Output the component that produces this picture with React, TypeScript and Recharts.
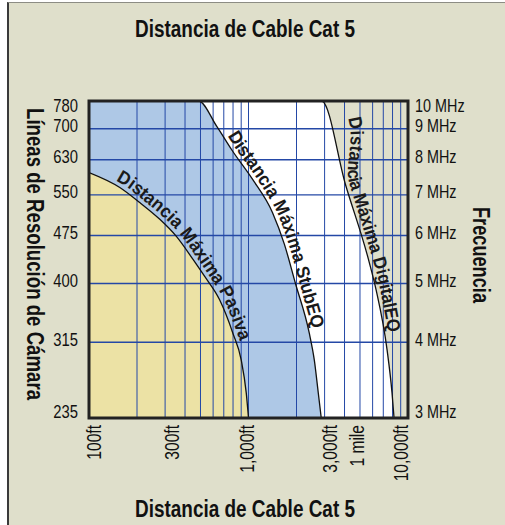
import React from 'react';
import { ComposedChart, Area, Line, XAxis, YAxis, ReferenceLine, ReferenceArea } from 'recharts';

// y: frequency (log), left labels are camera resolution lines for the same rows
const freqTicks = [3, 4, 5, 6, 7, 8, 9, 10];
const resolutionLines = [235, 315, 400, 475, 550, 630, 700, 780];
const gridFreq = [4, 5, 6, 7, 8, 9];

// x: cable distance in feet (log), top axis in metres
const feetTicks = [100, 300, 1000, 3000, 5280, 10000];
const feetLabels = ['100ft', '300ft', '1,000ft', '3,000ft', '1 mile', '10,000ft'];
const meterTicks = [30, 100, 300, 1000, 1600, 3000];
const meterLabels = ['30m', '100m', '300m', '1km', '1,6km', '3km'];
const gridFeet = [200, 300, 400, 500, 600, 700, 800, 900, 1000, 2000, 3000, 4000, 5000, 6000, 7000, 8000, 9000];

// max distance curves (ft, MHz)
const pasivaCurve = [
  { ft: 100, mhz: 7.62 }, { ft: 156, mhz: 7.2 }, { ft: 208, mhz: 6.8 }, { ft: 278, mhz: 6.38 },
  { ft: 353, mhz: 5.98 }, { ft: 449, mhz: 5.48 }, { ft: 530, mhz: 5.14 }, { ft: 659, mhz: 4.7 },
  { ft: 798, mhz: 4.14 }, { ft: 900, mhz: 3.74 }, { ft: 968, mhz: 3.3 }, { ft: 1000, mhz: 3.0 },
];
const stubCurve = [
  { ft: 100, mhz: 10 }, { ft: 487, mhz: 10 }, { ft: 631, mhz: 9.09 }, { ft: 794, mhz: 8.27 },
  { ft: 1059, mhz: 7.43 }, { ft: 1413, mhz: 6.55 }, { ft: 1680, mhz: 5.8 }, { ft: 1966, mhz: 5.01 },
  { ft: 2405, mhz: 4.14 }, { ft: 2585, mhz: 3.74 }, { ft: 2738, mhz: 3.3 }, { ft: 2858, mhz: 3.0 },
];
const digitalCurve = [
  { ft: 100, mhz: 10 }, { ft: 2880, mhz: 10 }, { ft: 4050, mhz: 7.29 }, { ft: 5650, mhz: 5.48 },
  { ft: 6310, mhz: 4.88 }, { ft: 7390, mhz: 3.89 }, { ft: 7940, mhz: 3.3 }, { ft: 8175, mhz: 3.0 },
];

// Arial-metric font squeezed horizontally, close to the condensed face of the original
const FONT = '"Liberation Sans", Arial, sans-serif';
const NARROW = 'scale(0.8,1)';
const BG = '#dfdfcb';
const BLUE = '#aec8e6';
const TAN = '#ece2a5';
const GRID = '#2448a6';

const bottomNudge: Record<string, number> = { '100ft': 5, '300ft': 7, '1,000ft': -2, '3,000ft': 5, '1 mile': -6.5, '10,000ft': -7 };
const topNudge: Record<string, number> = { '30m': 6.5, '100m': 1.5, '300m': 4, '1km': 0, '1,6km': -4, '3km': -6 };

const rowOffset = (v: number) => (v === 10 ? 10.5 : v === 3 ? 0 : 3.5);

const BottomTick = ({ x, y, payload }: any) => {
  const label = feetLabels[feetTicks.indexOf(payload.value)];
  return (
    <g transform={`translate(${x + (bottomNudge[label] ?? 0)},${y - 1}) rotate(-90) ${NARROW}`}>
      <text dy="0.36em" textAnchor="end" fontSize={19.5} fontFamily={FONT} fill="#111">{label}</text>
    </g>
  );
};

const TopTick = ({ x, y, payload }: any) => {
  const label = meterLabels[meterTicks.indexOf(payload.value)];
  return (
    <g transform={`translate(${x + (topNudge[label] ?? 0)},${y - 1}) rotate(-90) ${NARROW}`}>
      <text dy="0.36em" textAnchor="start" fontSize={19} fontFamily={FONT} fill="#111">{label}</text>
    </g>
  );
};

const LeftTick = ({ x, y, payload }: any) => (
  <g transform={`translate(${x - 3},${y + rowOffset(payload.value)}) ${NARROW}`}>
    <text textAnchor="end" fontSize={18.5} fontFamily={FONT} fill="#111">
      {resolutionLines[freqTicks.indexOf(payload.value)]}
    </text>
  </g>
);

const RightTick = ({ x, y, payload }: any) => (
  <g transform={`translate(${x - 1},${y + rowOffset(payload.value)}) ${NARROW}`}>
    <text textAnchor="start" fontSize={18} fontFamily={FONT} fill="#111">{payload.value} MHz</text>
  </g>
);

// smooth path through the series' screen points, used for the text along each curve
const smoothPath = (p: { x: number; y: number }[]) => {
  let d = `M${p[0].x},${p[0].y}`;
  for (let i = 0; i < p.length - 1; i++) {
    const p0 = p[i - 1] || p[i], p1 = p[i], p2 = p[i + 1], p3 = p[i + 2] || p2;
    d += ` C${p1.x + (p2.x - p0.x) / 6},${p1.y + (p2.y - p0.y) / 6} ${p2.x - (p3.x - p1.x) / 6},${p2.y - (p3.y - p1.y) / 6} ${p2.x},${p2.y}`;
  }
  return d;
};

const makeCaption = (text: string, count: number, start: number, length: number, id: string) => {
  const pts: { x: number; y: number }[] = [];
  return (props: any) => {
    pts[props.index] = { x: props.cx, y: props.cy };
    if (props.index !== count - 1) return <g key={`${id}-${props.index}`} />;
    return (
      <g key={`${id}-cap`}>
        <defs>
          <path id={id} d={smoothPath(pts.slice(0, count))} />
        </defs>
        <text dy={-4} fontSize={18.5} fontWeight={700} fontFamily={FONT} fill="#1a1a1a"
          textLength={length} lengthAdjust="spacingAndGlyphs">
          <textPath href={`#${id}`} startOffset={start}>{text}</textPath>
        </text>
      </g>
    );
  };
};

const pasivaCaption = makeCaption('Distancia Máxima Pasiva', pasivaCurve.length, 27, 205, 'cap-pasiva');
const stubCaption = makeCaption('Distancia Máxima StubEQ', stubCurve.length, 158, 212, 'cap-stub');
const digitalCaption = makeCaption('Distancia Máxima DigitalEQ', digitalCurve.length, 263, 220, 'cap-digital');

export default function App() {
  return (
    <div style={{ position: 'absolute', left: 0, top: 0, width: 505, height: 525, background: '#fff', overflow: 'hidden' }}>
      <div
        style={{
          position: 'absolute', left: 7, top: 2, width: 498, height: 523, boxSizing: 'border-box',
          borderLeft: '2px solid #3a3a3a', borderTop: '1px solid #8c8c84', background: BG,
        }}
      />
      <div style={{ position: 'absolute', left: 0, top: 0 }}>
        <ComposedChart width={505} height={525} margin={{ top: 0, right: 0, bottom: 0, left: 0 }}>
          <XAxis xAxisId="ft" dataKey="ft" type="number" scale="log" domain={[100, 10000]} allowDataOverflow
            ticks={feetTicks} interval={0} height={107} axisLine={false} tickLine={false} tick={<BottomTick />} />
          <XAxis xAxisId="m" orientation="top" type="number" scale="log" domain={[30.48, 3048]} allowDataOverflow
            ticks={meterTicks} interval={0} height={101} axisLine={false} tickLine={false} tick={<TopTick />} />
          <YAxis yAxisId="left" type="number" scale="log" domain={[3, 10]} allowDataOverflow
            ticks={freqTicks} interval={0} width={89} axisLine={false} tickLine={false} tick={<LeftTick />} />
          <YAxis yAxisId="right" orientation="right" type="number" scale="log" domain={[3, 10]} allowDataOverflow
            ticks={freqTicks} interval={0} width={97} axisLine={false} tickLine={false} tick={<RightTick />} />

          <Area xAxisId="ft" yAxisId="left" data={digitalCurve} dataKey="mhz" type="monotone" baseValue={3}
            fill="#ffffff" fillOpacity={1} stroke="none" isAnimationActive={false} />
          <Area xAxisId="ft" yAxisId="left" data={stubCurve} dataKey="mhz" type="monotone" baseValue={3}
            fill={BLUE} fillOpacity={1} stroke="none" isAnimationActive={false} />
          <Area xAxisId="ft" yAxisId="left" data={pasivaCurve} dataKey="mhz" type="monotone" baseValue={3}
            fill={TAN} fillOpacity={1} stroke="none" isAnimationActive={false} />

          {gridFeet.map((v) => (
            <ReferenceLine key={`gx${v}`} xAxisId="ft" yAxisId="left" x={v} stroke={GRID} strokeWidth={1} zIndex={150} />
          ))}
          {gridFreq.map((v) => (
            <ReferenceLine key={`gy${v}`} xAxisId="ft" yAxisId="left" y={v} stroke={GRID} strokeWidth={1.3} zIndex={150} />
          ))}

          <Line xAxisId="ft" yAxisId="left" data={digitalCurve} dataKey="mhz" type="monotone" stroke="#111"
            strokeWidth={1.3} dot={digitalCaption} activeDot={false} isAnimationActive={false} />
          <Line xAxisId="ft" yAxisId="left" data={stubCurve} dataKey="mhz" type="monotone" stroke="#111"
            strokeWidth={1.3} dot={stubCaption} activeDot={false} isAnimationActive={false} />
          <Line xAxisId="ft" yAxisId="left" data={pasivaCurve} dataKey="mhz" type="monotone" stroke="#111"
            strokeWidth={1.3} dot={pasivaCaption} activeDot={false} isAnimationActive={false} />

          <ReferenceArea xAxisId="ft" yAxisId="left" x1={100} x2={10000} y1={3} y2={10} fill="none"
            stroke="#222" strokeWidth={3} ifOverflow="visible" zIndex={600} />
        </ComposedChart>
      </div>
      <svg width={505} height={525} style={{ position: 'absolute', left: 0, top: 0, pointerEvents: 'none' }}>
        <g fontFamily={FONT} fontWeight={700} fontSize={23.5} fill="#111" textAnchor="middle">
          <text x={245} y={37} textLength={220} lengthAdjust="spacingAndGlyphs">Distancia de Cable Cat 5</text>
          <text x={245} y={517} textLength={220} lengthAdjust="spacingAndGlyphs">Distancia de Cable Cat 5</text>
          <text transform="translate(35,254) rotate(90)" dy="0.35em" textLength={292} lengthAdjust="spacingAndGlyphs">
            Líneas de Resolución de Cámara
          </text>
          <text transform="translate(481,255) rotate(90)" dy="0.35em" textLength={96} lengthAdjust="spacingAndGlyphs">
            Frecuencia
          </text>
        </g>
      </svg>
    </div>
  );
}
